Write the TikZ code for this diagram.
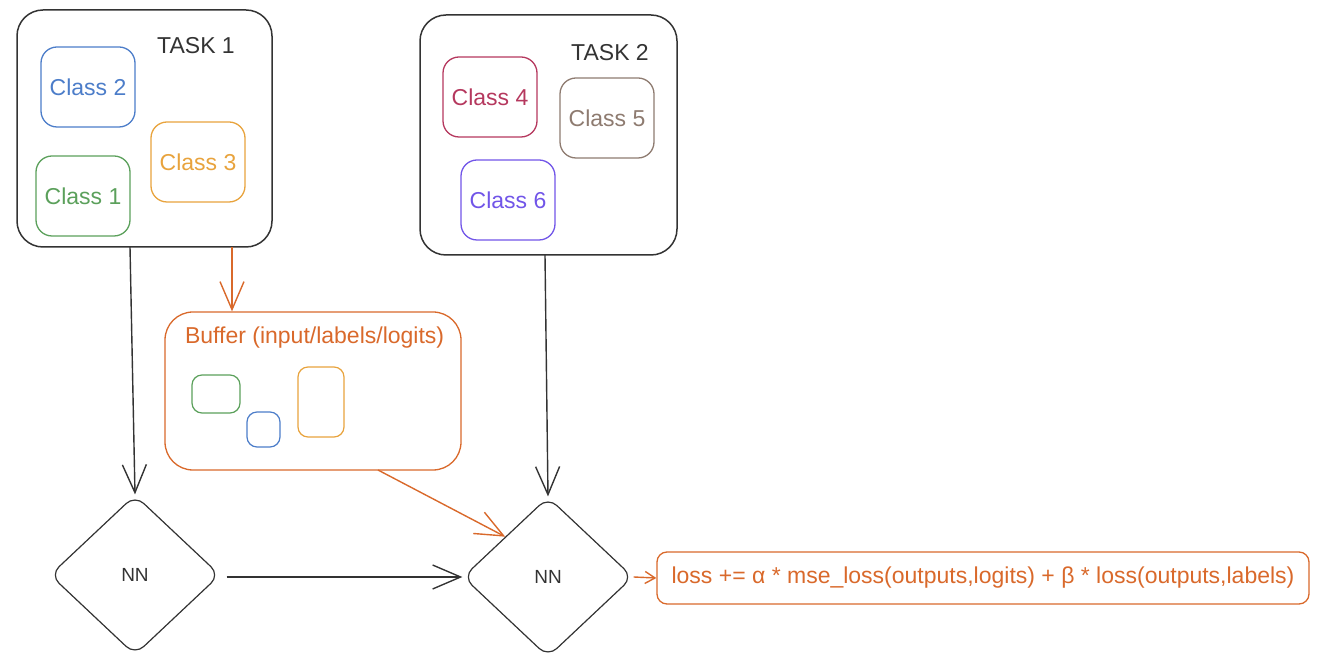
\documentclass[tikz,border=0pt]{standalone}
\usepackage{fontspec}
\setmainfont{Liberation Sans}
\usetikzlibrary{positioning,shapes.geometric,arrows.meta}

\definecolor{cblue}{HTML}{4C7DC9}
\definecolor{cyellow}{HTML}{E8A33D}
\definecolor{cgreen}{HTML}{5BA05B}
\definecolor{cred}{HTML}{B5385E}
\definecolor{cbrown}{HTML}{8E7B70}
\definecolor{cpurple}{HTML}{7155E8}
\definecolor{corange}{HTML}{D9692B}
\definecolor{cdark}{HTML}{333333}

\begin{document}
\begin{tikzpicture}[x=0.5pt,y=-0.5pt]
\tikzset{T/.style={draw=cdark,line width=0.75pt,rounded corners=13pt}}
\tikzset{C/.style={rectangle,draw=#1,text=#1,line width=0.65pt,rounded corners=8pt,minimum width=47pt,minimum height=40pt,font=\fontsize{11.5}{13}\selectfont}}
\tikzset{N/.style={diamond,draw=cdark,line width=0.6pt,rounded corners=6pt,minimum width=85pt,minimum height=80pt,inner sep=0pt,font=\fontsize{9.5}{11}\selectfont,text=cdark}}
\tikzset{A/.style={line width=0.7pt,-{Straight Barb[length=14pt,width=12pt]}}}

  \useasboundingbox (0,0) rectangle (1330,657);

  % task boxes
  \draw[T] (17,10) rectangle (272,247);
  \draw[T] (420,15) rectangle (677,255);
  \node[text=cdark,font=\fontsize{11.5}{13}\selectfont] (t1) at (196,46) {TASK 1};
  \node[text=cdark,font=\fontsize{11.5}{13}\selectfont] (t2) at (610,53) {TASK 2};
  \coordinate (t1b) at (130,247);
  \coordinate (t1o) at (232,247);
  \coordinate (t2b) at (545,255);

  \node[C=cblue] (c2) at (88,87)  {Class 2};
  \node[C=cyellow] (c3) at (198,162) {Class 3};
  \node[C=cgreen] (c1) at (83,196) {Class 1};

  \node[C=cred] (c4) at (490,97)  {Class 4};
  \node[C=cbrown] (c5) at (607,118) {Class 5};
  \node[C=cpurple] (c6) at (508,200) {Class 6};

  % buffer
  \node[rectangle,draw=corange,line width=0.65pt,rounded corners=14pt,minimum width=148pt,minimum height=79pt] (buf) at (313,391) {};
  \node[text=corange,font=\fontsize{11.5}{13}\selectfont,anchor=west] (bt) at (178,338) {Buffer (input/labels/logits)};
  \draw[cgreen,line width=0.6pt,rounded corners=5pt] (192,375) rectangle (240,413);
  \draw[cblue,line width=0.6pt,rounded corners=5pt] (247,412) rectangle (280,447);
  \draw[cyellow,line width=0.6pt,rounded corners=5pt] (298,367) rectangle (344,437);

  % networks
  \node[N] (nn1) at (135,575) {NN};
  \node[N] (nn2) at (548,577) {NN};

  \node[rectangle,draw=corange,text=corange,line width=0.65pt,rounded corners=5pt,minimum width=326pt,minimum height=26pt,font=\fontsize{11.5}{13}\selectfont] (loss) at (983,578) {loss += α * mse\_loss(outputs,logits) + β * loss(outputs,labels)};

  \draw[A,cdark] (t1b) -- (nn1.north);
  \draw[A,corange] (t1o) -- (buf.north -| t1o);
  \draw[A,cdark] (t2b) -- (nn2.north);
  \draw[A,corange] (378,470) -- (nn2.north west);
  \draw[A,cdark] ([xshift=3pt]nn1.east |- nn2.west) -- (nn2.west);
  \draw[A,corange,-{Straight Barb[length=5pt,width=6pt]}] (nn2.east) -- (loss.west);
\end{tikzpicture}
\end{document}
